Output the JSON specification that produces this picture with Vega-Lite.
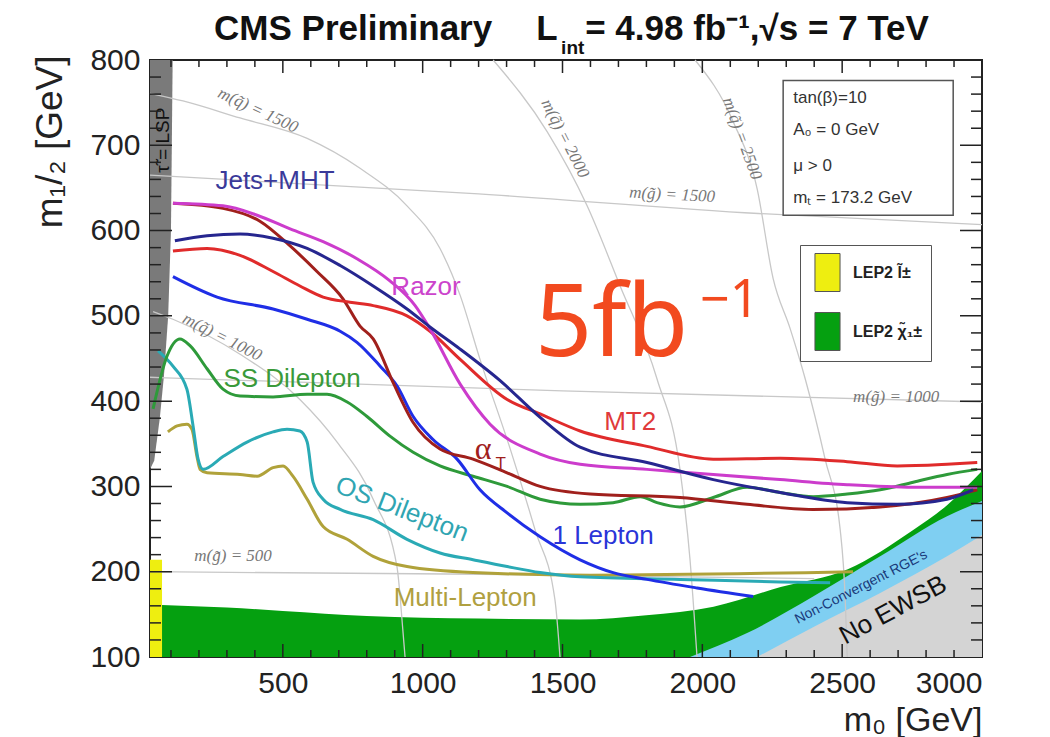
{
"$schema":"https://vega.github.io/schema/vega-lite/v6.json",
"width":832,"height":597,
"autosize":{"type":"none"},
"padding":{"left":150,"top":60,"right":68,"bottom":80},
"background":"white",
"config":{
 "view":{"stroke":"#222","strokeWidth":2},
 "axis":{"grid":false,"domain":false,"ticks":false,"zindex":1,"format":"d","labelFont":"Liberation Sans","labelFontSize":30,"labelColor":"#222","titleFont":"Liberation Sans","titleFontSize":37,"titleFontWeight":"normal","titleColor":"#222"},
 "tick":{"color":"#222","thickness":1.5,"opacity":1},
 "text":{"font":"Liberation Sans"}
},
"datasets":{
 "xmajor":[{"v":500},{"v":1000},{"v":1500},{"v":2000},{"v":2500}],
 "xminor":[{"v":100},{"v":200},{"v":300},{"v":400},{"v":600},{"v":700},{"v":800},{"v":900},{"v":1100},{"v":1200},{"v":1300},{"v":1400},{"v":1600},{"v":1700},{"v":1800},{"v":1900},{"v":2100},{"v":2200},{"v":2300},{"v":2400},{"v":2600},{"v":2700},{"v":2800},{"v":2900}],
 "ymajor":[{"v":200},{"v":300},{"v":400},{"v":500},{"v":600},{"v":700}],
 "yminor":[{"v":120},{"v":140},{"v":160},{"v":180},{"v":220},{"v":240},{"v":260},{"v":280},{"v":320},{"v":340},{"v":360},{"v":380},{"v":420},{"v":440},{"v":460},{"v":480},{"v":520},{"v":540},{"v":560},{"v":580},{"v":620},{"v":640},{"v":660},{"v":680},{"v":720},{"v":740},{"v":760},{"v":780}],
 "green":[
  {"region":"LEP2 χ̃₁±","m0":68,"top":161},{"region":"LEP2 χ̃₁±","m0":300,"top":158},{"region":"LEP2 χ̃₁±","m0":500,"top":154},{"region":"LEP2 χ̃₁±","m0":800,"top":148},{"region":"LEP2 χ̃₁±","m0":1200,"top":145},{"region":"LEP2 χ̃₁±","m0":1560,"top":144},{"region":"LEP2 χ̃₁±","m0":1800,"top":149},{"region":"LEP2 χ̃₁±","m0":2040,"top":159},{"region":"LEP2 χ̃₁±","m0":2280,"top":182},{"region":"LEP2 χ̃₁±","m0":2520,"top":203},{"region":"LEP2 χ̃₁±","m0":2754,"top":249},{"region":"LEP2 χ̃₁±","m0":2875,"top":278},{"region":"LEP2 χ̃₁±","m0":3000,"top":318}
 ],
 "blue":[{"m0":1956,"top":100},{"m0":2160,"top":128},{"m0":2396,"top":171},{"m0":2636,"top":218},{"m0":2875,"top":265},{"m0":3000,"top":283}],
 "gray":[{"m0":2196,"top":100},{"m0":2396,"top":135},{"m0":2636,"top":175},{"m0":2875,"top":218},{"m0":3000,"top":243}],
 "tau":[{"m12":320,"m0":25},{"m12":330,"m0":40},{"m12":380,"m0":60},{"m12":430,"m0":75},{"m12":500,"m0":90},{"m12":600,"m0":100},{"m12":800,"m0":106}],
 "iso":[
  {"iso":"q1000","m0":36,"m12":505},{"iso":"q1000","m0":107,"m12":496},{"iso":"q1000","m0":347,"m12":455},{"iso":"q1000","m0":561,"m12":402},{"iso":"q1000","m0":694,"m12":352},{"iso":"q1000","m0":823,"m12":285},{"iso":"q1000","m0":908,"m12":206},{"iso":"q1000","m0":930,"m12":128},{"iso":"q1000","m0":937,"m12":100},
  {"iso":"q1500","m0":25,"m12":761},{"iso":"q1500","m0":143,"m12":752},{"iso":"q1500","m0":347,"m12":732},{"iso":"q1500","m0":587,"m12":708},{"iso":"q1500","m0":776,"m12":673},{"iso":"q1500","m0":944,"m12":629},{"iso":"q1500","m0":1062,"m12":579},{"iso":"q1500","m0":1134,"m12":524},{"iso":"q1500","m0":1205,"m12":449},{"iso":"q1500","m0":1313,"m12":344},{"iso":"q1500","m0":1402,"m12":249},{"iso":"q1500","m0":1473,"m12":167},{"iso":"q1500","m0":1491,"m12":100},
  {"iso":"q2000","m0":1252,"m12":800},{"iso":"q2000","m0":1445,"m12":716},{"iso":"q2000","m0":1588,"m12":629},{"iso":"q2000","m0":1706,"m12":535},{"iso":"q2000","m0":1838,"m12":426},{"iso":"q2000","m0":1920,"m12":320},{"iso":"q2000","m0":1956,"m12":214},{"iso":"q2000","m0":1981,"m12":100},
  {"iso":"q2500","m0":1974,"m12":800},{"iso":"q2500","m0":2110,"m12":728},{"iso":"q2500","m0":2196,"m12":649},{"iso":"q2500","m0":2253,"m12":544},{"iso":"q2500","m0":2314,"m12":485},{"iso":"q2500","m0":2368,"m12":426},{"iso":"q2500","m0":2439,"m12":332},{"iso":"q2500","m0":2493,"m12":249},{"iso":"q2500","m0":2511,"m12":167},{"iso":"q2500","m0":2518,"m12":100},
  {"iso":"g500","m0":25,"m12":200},{"iso":"g500","m0":1200,"m12":197},{"iso":"g500","m0":2400,"m12":192},
  {"iso":"g1000","m0":25,"m12":428},{"iso":"g1000","m0":1500,"m12":412},{"iso":"g1000","m0":3000,"m12":399},
  {"iso":"g1500","m0":25,"m12":665},{"iso":"g1500","m0":1200,"m12":643},{"iso":"g1500","m0":2200,"m12":620},{"iso":"g1500","m0":3000,"m12":607}
 ],
 "curves":[
  {"curve":"Multi-Lepton","m0":89,"m12":364},{"curve":"Multi-Lepton","m0":122,"m12":371},{"curve":"Multi-Lepton","m0":157,"m12":373},{"curve":"Multi-Lepton","m0":175,"m12":367},{"curve":"Multi-Lepton","m0":193,"m12":335},{"curve":"Multi-Lepton","m0":204,"m12":320},{"curve":"Multi-Lepton","m0":229,"m12":316},{"curve":"Multi-Lepton","m0":347,"m12":314},{"curve":"Multi-Lepton","m0":408,"m12":312},{"curve":"Multi-Lepton","m0":465,"m12":322},{"curve":"Multi-Lepton","m0":501,"m12":324},{"curve":"Multi-Lepton","m0":536,"m12":312},{"curve":"Multi-Lepton","m0":587,"m12":285},{"curve":"Multi-Lepton","m0":644,"m12":253},{"curve":"Multi-Lepton","m0":730,"m12":238},{"curve":"Multi-Lepton","m0":823,"m12":218},{"curve":"Multi-Lepton","m0":944,"m12":206},{"curve":"Multi-Lepton","m0":1180,"m12":199},{"curve":"Multi-Lepton","m0":1599,"m12":196},{"curve":"Multi-Lepton","m0":2539,"m12":200},
  {"curve":"OS Dilepton","m0":54,"m12":459},{"curve":"OS Dilepton","m0":107,"m12":441},{"curve":"OS Dilepton","m0":157,"m12":414},{"curve":"OS Dilepton","m0":179,"m12":371},{"curve":"OS Dilepton","m0":197,"m12":332},{"curve":"OS Dilepton","m0":215,"m12":320},{"curve":"OS Dilepton","m0":286,"m12":335},{"curve":"OS Dilepton","m0":372,"m12":352},{"curve":"OS Dilepton","m0":465,"m12":364},{"curve":"OS Dilepton","m0":515,"m12":367},{"curve":"OS Dilepton","m0":561,"m12":365},{"curve":"OS Dilepton","m0":587,"m12":352},{"curve":"OS Dilepton","m0":608,"m12":305},{"curve":"OS Dilepton","m0":644,"m12":285},{"curve":"OS Dilepton","m0":705,"m12":273},{"curve":"OS Dilepton","m0":823,"m12":261},{"curve":"OS Dilepton","m0":944,"m12":238},{"curve":"OS Dilepton","m0":1062,"m12":222},{"curve":"OS Dilepton","m0":1180,"m12":214},{"curve":"OS Dilepton","m0":1302,"m12":206},{"curve":"OS Dilepton","m0":1420,"m12":199},{"curve":"OS Dilepton","m0":1563,"m12":194},{"curve":"OS Dilepton","m0":1920,"m12":191},{"curve":"OS Dilepton","m0":2278,"m12":188},{"curve":"OS Dilepton","m0":2457,"m12":187},
  {"curve":"SS Dilepton","m0":36,"m12":391},{"curve":"SS Dilepton","m0":86,"m12":453},{"curve":"SS Dilepton","m0":132,"m12":473},{"curve":"SS Dilepton","m0":168,"m12":465},{"curve":"SS Dilepton","m0":229,"m12":438},{"curve":"SS Dilepton","m0":286,"m12":414},{"curve":"SS Dilepton","m0":347,"m12":406},{"curve":"SS Dilepton","m0":465,"m12":405},{"curve":"SS Dilepton","m0":587,"m12":408},{"curve":"SS Dilepton","m0":658,"m12":408},{"curve":"SS Dilepton","m0":730,"m12":399},{"curve":"SS Dilepton","m0":801,"m12":382},{"curve":"SS Dilepton","m0":883,"m12":359},{"curve":"SS Dilepton","m0":966,"m12":340},{"curve":"SS Dilepton","m0":1062,"m12":324},{"curve":"SS Dilepton","m0":1180,"m12":312},{"curve":"SS Dilepton","m0":1302,"m12":300},{"curve":"SS Dilepton","m0":1420,"m12":285},{"curve":"SS Dilepton","m0":1563,"m12":279},{"curve":"SS Dilepton","m0":1681,"m12":281},{"curve":"SS Dilepton","m0":1778,"m12":288},{"curve":"SS Dilepton","m0":1838,"m12":281},{"curve":"SS Dilepton","m0":1920,"m12":276},{"curve":"SS Dilepton","m0":2039,"m12":287},{"curve":"SS Dilepton","m0":2160,"m12":299},{"curve":"SS Dilepton","m0":2278,"m12":293},{"curve":"SS Dilepton","m0":2396,"m12":288},{"curve":"SS Dilepton","m0":2518,"m12":291},{"curve":"SS Dilepton","m0":2636,"m12":296},{"curve":"SS Dilepton","m0":2754,"m12":305},{"curve":"SS Dilepton","m0":2875,"m12":314},{"curve":"SS Dilepton","m0":2983,"m12":320},
  {"curve":"1 Lepton","m0":107,"m12":546},{"curve":"1 Lepton","m0":265,"m12":522},{"curve":"1 Lepton","m0":465,"m12":508},{"curve":"1 Lepton","m0":587,"m12":496},{"curve":"1 Lepton","m0":705,"m12":482},{"curve":"1 Lepton","m0":765,"m12":469},{"curve":"1 Lepton","m0":848,"m12":441},{"curve":"1 Lepton","m0":908,"m12":418},{"curve":"1 Lepton","m0":966,"m12":382},{"curve":"1 Lepton","m0":1037,"m12":355},{"curve":"1 Lepton","m0":1123,"m12":332},{"curve":"1 Lepton","m0":1205,"m12":296},{"curve":"1 Lepton","m0":1302,"m12":269},{"curve":"1 Lepton","m0":1420,"m12":241},{"curve":"1 Lepton","m0":1563,"m12":214},{"curve":"1 Lepton","m0":1681,"m12":199},{"curve":"1 Lepton","m0":1802,"m12":191},{"curve":"1 Lepton","m0":1981,"m12":181},{"curve":"1 Lepton","m0":2182,"m12":171},
  {"curve":"αT","m0":107,"m12":632},{"curve":"αT","m0":286,"m12":626},{"curve":"αT","m0":418,"m12":611},{"curve":"αT","m0":526,"m12":582},{"curve":"αT","m0":622,"m12":552},{"curve":"αT","m0":715,"m12":520},{"curve":"αT","m0":776,"m12":488},{"curve":"αT","m0":823,"m12":473},{"curve":"αT","m0":894,"m12":422},{"curve":"αT","m0":966,"m12":375},{"curve":"αT","m0":1062,"m12":344},{"curve":"αT","m0":1180,"m12":332},{"curve":"αT","m0":1302,"m12":316},{"curve":"αT","m0":1420,"m12":300},{"curve":"αT","m0":1599,"m12":291},{"curve":"αT","m0":1920,"m12":287},{"curve":"αT","m0":2160,"m12":279},{"curve":"αT","m0":2396,"m12":273},{"curve":"αT","m0":2636,"m12":276},{"curve":"αT","m0":2875,"m12":287},{"curve":"αT","m0":2983,"m12":296},
  {"curve":"MT2","m0":107,"m12":576},{"curve":"MT2","m0":229,"m12":579},{"curve":"MT2","m0":347,"m12":571},{"curve":"MT2","m0":465,"m12":552},{"curve":"MT2","m0":561,"m12":535},{"curve":"MT2","m0":644,"m12":522},{"curve":"MT2","m0":740,"m12":516},{"curve":"MT2","m0":823,"m12":512},{"curve":"MT2","m0":944,"m12":500},{"curve":"MT2","m0":1026,"m12":482},{"curve":"MT2","m0":1134,"m12":449},{"curve":"MT2","m0":1302,"m12":402},{"curve":"MT2","m0":1420,"m12":385},{"curve":"MT2","m0":1563,"m12":365},{"curve":"MT2","m0":1802,"m12":347},{"curve":"MT2","m0":2039,"m12":332},{"curve":"MT2","m0":2278,"m12":333},{"curve":"MT2","m0":2518,"m12":329},{"curve":"MT2","m0":2697,"m12":324},{"curve":"MT2","m0":2875,"m12":326},{"curve":"MT2","m0":2983,"m12":328},
  {"curve":"Razor","m0":107,"m12":632},{"curve":"Razor","m0":286,"m12":629},{"curve":"Razor","m0":408,"m12":618},{"curve":"Razor","m0":526,"m12":602},{"curve":"Razor","m0":644,"m12":587},{"curve":"Razor","m0":765,"m12":567},{"curve":"Razor","m0":883,"m12":541},{"curve":"Razor","m0":973,"m12":512},{"curve":"Razor","m0":1026,"m12":485},{"curve":"Razor","m0":1134,"m12":420},{"curve":"Razor","m0":1241,"m12":373},{"curve":"Razor","m0":1420,"m12":338},{"curve":"Razor","m0":1563,"m12":326},{"curve":"Razor","m0":1802,"m12":320},{"curve":"Razor","m0":2039,"m12":314},{"curve":"Razor","m0":2278,"m12":308},{"curve":"Razor","m0":2518,"m12":302},{"curve":"Razor","m0":2754,"m12":299},{"curve":"Razor","m0":2983,"m12":299},
  {"curve":"Jets+MHT","m0":114,"m12":588},{"curve":"Jets+MHT","m0":229,"m12":594},{"curve":"Jets+MHT","m0":347,"m12":596},{"curve":"Jets+MHT","m0":465,"m12":591},{"curve":"Jets+MHT","m0":587,"m12":579},{"curve":"Jets+MHT","m0":705,"m12":559},{"curve":"Jets+MHT","m0":823,"m12":535},{"curve":"Jets+MHT","m0":944,"m12":508},{"curve":"Jets+MHT","m0":1026,"m12":487},{"curve":"Jets+MHT","m0":1134,"m12":461},{"curve":"Jets+MHT","m0":1277,"m12":424},{"curve":"Jets+MHT","m0":1420,"m12":381},{"curve":"Jets+MHT","m0":1563,"m12":346},{"curve":"Jets+MHT","m0":1802,"m12":328},{"curve":"Jets+MHT","m0":2039,"m12":308},{"curve":"Jets+MHT","m0":2278,"m12":293},{"curve":"Jets+MHT","m0":2518,"m12":281},{"curve":"Jets+MHT","m0":2697,"m12":279},{"curve":"Jets+MHT","m0":2875,"m12":285},{"curve":"Jets+MHT","m0":2968,"m12":296}
 ]
},
"layer":[
 {"data":{"name":"green"},"mark":{"type":"area","interpolate":"monotone"},
  "encoding":{
   "x":{"field":"m0","type":"quantitative","scale":{"domain":[25,3000],"nice":false,"zero":false},
        "axis":{"orient":"bottom","values":[500,1000,1500,2000,2500,3000],"labelPadding":11,"title":"m₀ [GeV]","titleFontSize":34,"titleX":832,"titleY":73,"titleAlign":"right","titleBaseline":"alphabetic","titleAnchor":"end"}},
   "y":{"field":"top","type":"quantitative","scale":{"domain":[100,800],"nice":false,"zero":false},
        "axis":{"orient":"left","values":[100,200,300,400,500,600,700,800],"labelPadding":10,"title":"m₁/₂ [GeV]","titleX":-100,"titleY":-5,"titleAlign":"right","titleBaseline":"middle","titleAngle":270}},
   "y2":{"datum":100},
   "fill":{"field":"region","type":"nominal","scale":{"domain":["LEP2 l̃±","LEP2 χ̃₁±"],"range":["#eeee10","#05a010"]},
     "legend":{"orient":"none","legendX":650,"legendY":185,"title":null,"symbolType":"M-0.66,-1H0.66V1H-0.66Z","symbolSize":1444,"symbolStrokeColor":"#555","symbolStrokeWidth":1,"symbolOpacity":1,"labelFont":"Liberation Sans","labelFontSize":16,"labelFontWeight":"bold","labelColor":"#222","labelOffset":6,"rowPadding":16,"padding":8,"strokeColor":"#555","fillColor":"white","cornerRadius":0,"zindex":2}}
  }},
 {"data":{"name":"blue"},"mark":{"type":"area","interpolate":"monotone","color":"#7fcff2"},
  "encoding":{
   "x":{"field":"m0","type":"quantitative","scale":{"domain":[25,3000],"nice":false,"zero":false}},
   "y":{"field":"top","type":"quantitative","scale":{"domain":[100,800],"nice":false,"zero":false}},
   "y2":{"datum":100}
  }},
 {"data":{"name":"gray"},"mark":{"type":"area","interpolate":"monotone","color":"#d4d4d4"},
  "encoding":{
   "x":{"field":"m0","type":"quantitative","scale":{"domain":[25,3000],"nice":false,"zero":false}},
   "y":{"field":"top","type":"quantitative","scale":{"domain":[100,800],"nice":false,"zero":false}},
   "y2":{"datum":100}
  }},
 {"data":{"values":[{"region":"LEP2 l̃±","m0a":25,"m0b":68,"m12a":100,"m12b":214}]},"mark":{"type":"rect"},
  "encoding":{
   "x":{"field":"m0a","type":"quantitative","scale":{"domain":[25,3000],"nice":false,"zero":false}},
   "x2":{"field":"m0b"},
   "y":{"field":"m12a","type":"quantitative","scale":{"domain":[100,800],"nice":false,"zero":false}},
   "y2":{"field":"m12b"},
   "fill":{"field":"region","type":"nominal","scale":{"domain":["LEP2 l̃±","LEP2 χ̃₁±"],"range":["#eeee10","#05a010"]}}
  }},
 {"data":{"name":"tau"},"mark":{"type":"area","orient":"horizontal","color":"#7a7a7a"},
  "encoding":{
   "y":{"field":"m12","type":"quantitative","scale":{"domain":[100,800],"nice":false,"zero":false}},
   "x":{"field":"m0","type":"quantitative","scale":{"domain":[25,3000],"nice":false,"zero":false}},
   "x2":{"datum":25}
  }},
 {"data":{"name":"iso"},"mark":{"type":"line","interpolate":"monotone","color":"#c8c8c8","strokeWidth":1.3},
  "encoding":{
   "x":{"field":"m0","type":"quantitative","scale":{"domain":[25,3000],"nice":false,"zero":false}},
   "y":{"field":"m12","type":"quantitative","scale":{"domain":[100,800],"nice":false,"zero":false}},
   "detail":{"field":"iso"}
  }},
 {"data":{"values":[{"t":"m(q̃) = 1500","m0":411,"m12":741}]},"mark":{"type":"text","font":"Liberation Serif","fontStyle":"italic","fontSize":17,"color":"#777","angle":25},
  "encoding":{"x":{"field":"m0","type":"quantitative"},"y":{"field":"m12","type":"quantitative"},"text":{"field":"t"}}},
 {"data":{"values":[{"t":"m(q̃) = 1000","m0":283,"m12":475}]},"mark":{"type":"text","font":"Liberation Serif","fontStyle":"italic","fontSize":17,"color":"#777","angle":27},
  "encoding":{"x":{"field":"m0","type":"quantitative"},"y":{"field":"m12","type":"quantitative"},"text":{"field":"t"}}},
 {"data":{"values":[{"t":"m(q̃) = 2000","m0":1509,"m12":708}]},"mark":{"type":"text","font":"Liberation Serif","fontStyle":"italic","fontSize":17,"color":"#777","angle":63},
  "encoding":{"x":{"field":"m0","type":"quantitative"},"y":{"field":"m12","type":"quantitative"},"text":{"field":"t"}}},
 {"data":{"values":[{"t":"m(q̃) = 2500","m0":2142,"m12":708}]},"mark":{"type":"text","font":"Liberation Serif","fontStyle":"italic","fontSize":17,"color":"#777","angle":70},
  "encoding":{"x":{"field":"m0","type":"quantitative"},"y":{"field":"m12","type":"quantitative"},"text":{"field":"t"}}},
 {"data":{"values":[{"t":"m(g̃) = 1500","m0":1892,"m12":642}]},"mark":{"type":"text","font":"Liberation Serif","fontStyle":"italic","fontSize":17,"color":"#777","angle":3},
  "encoding":{"x":{"field":"m0","type":"quantitative"},"y":{"field":"m12","type":"quantitative"},"text":{"field":"t"}}},
 {"data":{"values":[{"t":"m(g̃) = 1000","m0":2693,"m12":405},{"t":"m(g̃) = 500","m0":322,"m12":218}]},"mark":{"type":"text","font":"Liberation Serif","fontStyle":"italic","fontSize":17,"color":"#777"},
  "encoding":{"x":{"field":"m0","type":"quantitative"},"y":{"field":"m12","type":"quantitative"},"text":{"field":"t"}}},
 {"data":{"name":"curves"},"mark":{"type":"line","interpolate":"monotone","strokeWidth":3},
  "encoding":{
   "x":{"field":"m0","type":"quantitative"},
   "y":{"field":"m12","type":"quantitative"},
   "stroke":{"field":"curve","type":"nominal","legend":null,"scale":{"domain":["Jets+MHT","Razor","MT2","αT","1 Lepton","SS Dilepton","OS Dilepton","Multi-Lepton"],"range":["#26268f","#cc3ccc","#e02b2b","#a0201c","#1f2ee6","#2e9a3a","#2aaab5","#b0a23a"]}}
  }},
 {"data":{"values":[{"curve":"Jets+MHT","m0":472,"m12":658},{"curve":"Razor","m0":1012,"m12":534},{"curve":"MT2","m0":1742,"m12":376},{"curve":"SS Dilepton","m0":533,"m12":426},{"curve":"1 Lepton","m0":1645,"m12":242},{"curve":"Multi-Lepton","m0":1152,"m12":169}]},
  "mark":{"type":"text","fontSize":26},
  "encoding":{"x":{"field":"m0","type":"quantitative"},"y":{"field":"m12","type":"quantitative"},"text":{"field":"curve"},
   "color":{"field":"curve","type":"nominal","legend":null,"scale":{"domain":["Jets+MHT","Razor","MT2","αT","1 Lepton","SS Dilepton","OS Dilepton","Multi-Lepton"],"range":["#3a3a9a","#cc44cc","#e03a3a","#a0201c","#2a35d8","#3a9a3a","#30a5b2","#b0a040"]}}}},
 {"data":{"values":[{"t":"OS Dilepton","m0":926,"m12":273}]},"mark":{"type":"text","fontSize":26,"angle":21,"color":"#30a5b2"},
  "encoding":{"x":{"field":"m0","type":"quantitative"},"y":{"field":"m12","type":"quantitative"},"text":{"field":"t"}}},
 {"data":{"values":[{"t":"α","m0":1216,"m12":344}]},"mark":{"type":"text","fontSize":32,"font":"Liberation Serif","color":"#a0201c"},
  "encoding":{"x":{"field":"m0","type":"quantitative"},"y":{"field":"m12","type":"quantitative"},"text":{"field":"t"}}},
 {"data":{"values":[{"t":"T","m0":1279,"m12":326}]},"mark":{"type":"text","fontSize":17,"color":"#a0201c"},
  "encoding":{"x":{"field":"m0","type":"quantitative"},"y":{"field":"m12","type":"quantitative"},"text":{"field":"t"}}},
 {"data":{"values":[{"t":"No EWSB","m0":2682,"m12":155}]},"mark":{"type":"text","fontSize":26,"angle":-28,"color":"#111"},
  "encoding":{"x":{"field":"m0","type":"quantitative"},"y":{"field":"m12","type":"quantitative"},"text":{"field":"t"}}},
 {"data":{"values":[{"t":"Non-Convergent RGE's","m0":2568,"m12":182}]},"mark":{"type":"text","fontSize":14,"angle":-27,"color":"#1a3a7a"},
  "encoding":{"x":{"field":"m0","type":"quantitative"},"y":{"field":"m12","type":"quantitative"},"text":{"field":"t"}}},
 {"data":{"values":[{"t":"τ̃ = LSP","m0":71,"m12":706}]},"mark":{"type":"text","fontSize":19,"angle":270,"color":"#111"},
  "encoding":{"x":{"field":"m0","type":"quantitative"},"y":{"field":"m12","type":"quantitative"},"text":{"field":"t"}}},
 {"data":{"values":[{"m0a":2289,"m0b":2897,"m12a":618,"m12b":776}]},"mark":{"type":"rect","fill":"white","stroke":"#555","strokeWidth":1.5},
  "encoding":{"x":{"field":"m0a","type":"quantitative"},"x2":{"field":"m0b"},"y":{"field":"m12a","type":"quantitative"},"y2":{"field":"m12b"}}},
 {"data":{"values":[{"t":"tan(β)=10","m0":2325,"m12":755},{"t":"A₀ = 0 GeV","m0":2325,"m12":718},{"t":"μ > 0","m0":2325,"m12":676},{"t":"mₜ = 173.2 GeV","m0":2325,"m12":638}]},"mark":{"type":"text","fontSize":17,"align":"left","color":"#333"},
  "encoding":{"x":{"field":"m0","type":"quantitative"},"y":{"field":"m12","type":"quantitative"},"text":{"field":"t"}}},
 {"data":{"values":[{"t":"5fb","m0":1402,"m12":453}]},"mark":{"type":"text","fontSize":100,"font":"Noto Sans","align":"left","baseline":"alphabetic","color":"#f24a1f"},
  "encoding":{"x":{"field":"m0","type":"quantitative"},"y":{"field":"m12","type":"quantitative"},"text":{"field":"t"}}},
 {"data":{"values":[{"t":"−1","m0":1992,"m12":499}]},"mark":{"type":"text","fontSize":52,"font":"Noto Sans","align":"left","baseline":"alphabetic","color":"#f24a1f"},
  "encoding":{"x":{"field":"m0","type":"quantitative"},"y":{"field":"m12","type":"quantitative"},"text":{"field":"t"}}},
 {"data":{"values":[{"t":"CMS Preliminary","m0":254,"m12":823.5},{"t":"L","m0":1406,"m12":823.5},{"t":"= 4.98 fb⁻¹,√s = 7 TeV","m0":1581,"m12":823.5}]},"mark":{"type":"text","fontSize":35,"fontWeight":"bold","align":"left","baseline":"alphabetic","color":"#111"},
  "encoding":{"x":{"field":"m0","type":"quantitative"},"y":{"field":"m12","type":"quantitative"},"text":{"field":"t"}}},
 {"data":{"values":[{"t":"int","m0":1495,"m12":807}]},"mark":{"type":"text","fontSize":19,"fontWeight":"bold","align":"left","baseline":"alphabetic","color":"#111"},
  "encoding":{"x":{"field":"m0","type":"quantitative"},"y":{"field":"m12","type":"quantitative"},"text":{"field":"t"}}},
 {"data":{"name":"xmajor"},"mark":{"type":"tick","orient":"vertical","size":26,"clip":true},
  "encoding":{"x":{"field":"v","type":"quantitative"},"y":{"datum":100,"type":"quantitative"}}},
 {"data":{"name":"xmajor"},"mark":{"type":"tick","orient":"vertical","size":26,"clip":true},
  "encoding":{"x":{"field":"v","type":"quantitative"},"y":{"datum":800,"type":"quantitative"}}},
 {"data":{"name":"xminor"},"mark":{"type":"tick","orient":"vertical","size":14,"clip":true},
  "encoding":{"x":{"field":"v","type":"quantitative"},"y":{"datum":100,"type":"quantitative"}}},
 {"data":{"name":"xminor"},"mark":{"type":"tick","orient":"vertical","size":14,"clip":true},
  "encoding":{"x":{"field":"v","type":"quantitative"},"y":{"datum":800,"type":"quantitative"}}},
 {"data":{"name":"ymajor"},"mark":{"type":"tick","orient":"horizontal","size":44,"clip":true},
  "encoding":{"y":{"field":"v","type":"quantitative"},"x":{"datum":25,"type":"quantitative"}}},
 {"data":{"name":"ymajor"},"mark":{"type":"tick","orient":"horizontal","size":44,"clip":true},
  "encoding":{"y":{"field":"v","type":"quantitative"},"x":{"datum":3000,"type":"quantitative"}}},
 {"data":{"name":"yminor"},"mark":{"type":"tick","orient":"horizontal","size":22,"clip":true},
  "encoding":{"y":{"field":"v","type":"quantitative"},"x":{"datum":25,"type":"quantitative"}}},
 {"data":{"name":"yminor"},"mark":{"type":"tick","orient":"horizontal","size":22,"clip":true},
  "encoding":{"y":{"field":"v","type":"quantitative"},"x":{"datum":3000,"type":"quantitative"}}}
]
}
